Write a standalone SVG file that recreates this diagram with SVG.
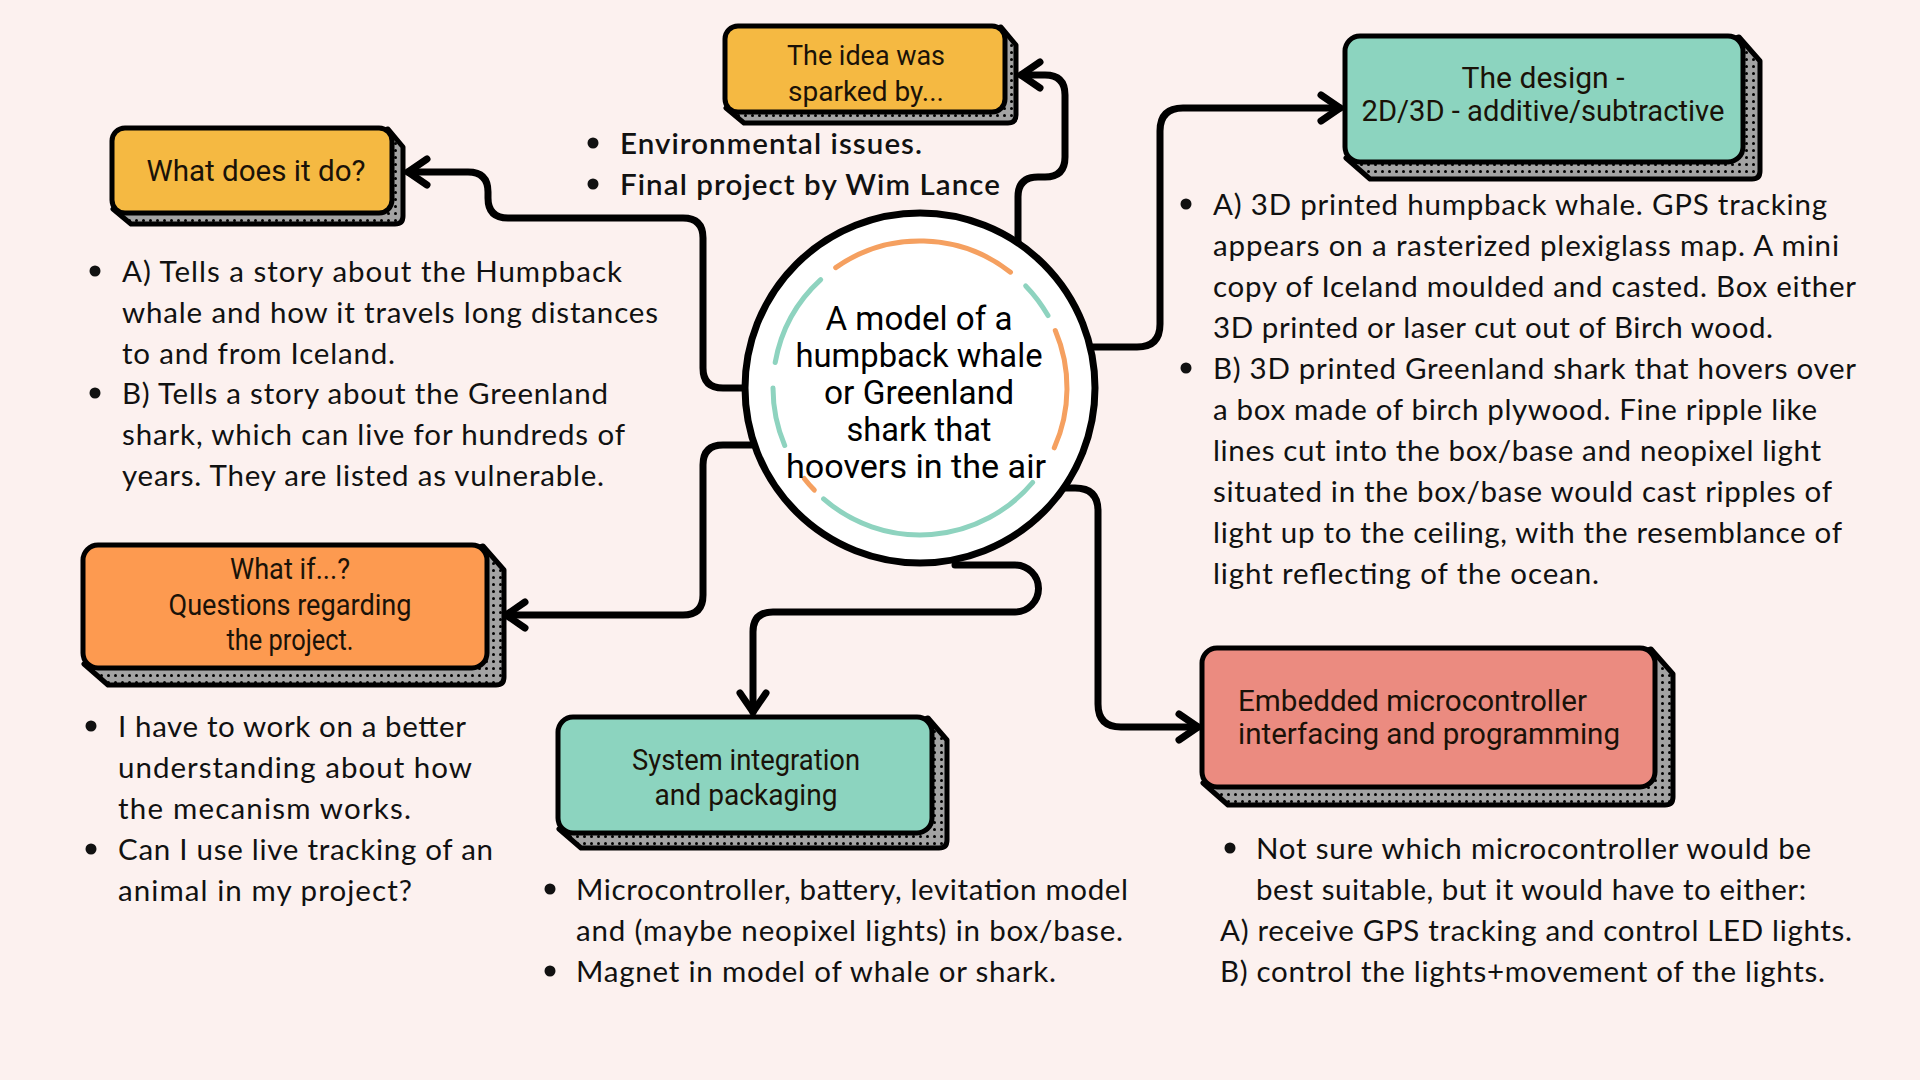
<svg xmlns="http://www.w3.org/2000/svg" width="1920" height="1080" viewBox="0 0 1920 1080">
<defs>
<pattern id="dots" patternUnits="userSpaceOnUse" width="7" height="7">
<rect width="7" height="7" fill="#a3a3a3"/>
<circle cx="3.5" cy="3.5" r="1.5" fill="#000"/>
</pattern>
<marker id="arr" markerUnits="userSpaceOnUse" orient="auto" refX="0" refY="0" markerWidth="1" markerHeight="1" overflow="visible">
<path d="M -19 -13 L 0 0 L -19 13" fill="none" stroke="#000" stroke-width="7" stroke-linecap="round" stroke-linejoin="round"/>
</marker>
<style>
.shadow{fill:url(#dots);stroke:#000;stroke-width:5;stroke-linejoin:round}
.box{stroke:#000;stroke-width:5}
.yellow{fill:#f5b942}
.teal{fill:#8cd4bf}
.orange{fill:#fd9a50}
.salmon{fill:#eb8b80}
.bt{font-family:Roboto,"Liberation Sans",sans-serif;font-size:29px;fill:#1a1208;text-anchor:middle}
.body{font-family:Lato,"Open Sans",sans-serif;font-size:29.5px;fill:#111}
.bold{font-weight:600}
.dot{fill:#111}
.conn{fill:none;stroke:#000;stroke-width:7;stroke-linecap:round;stroke-linejoin:round}
.ring{fill:none;stroke-width:5;stroke-linecap:round}
.ro{stroke:#f5a060}
.rt{stroke:#8ed3bf}
</style>
</defs>
<rect width="1920" height="1080" fill="#fcf1ef"/>

<g id="connectors">
<path class="conn" marker-end="url(#arr)" d="M 1018 250 L 1018 197 Q 1018 177 1038 177 L 1045 177 Q 1065 177 1065 157 L 1065 95 Q 1065 75 1045 75 L 1021 75"/>
<path class="conn" marker-end="url(#arr)" d="M 760 388 L 723 388 Q 703 388 703 368 L 703 238 Q 703 218 683 218 L 508 218 Q 488 218 488 198 L 488 192 Q 488 172 468 172 L 408 172"/>
<path class="conn" marker-end="url(#arr)" d="M 760 445 L 723 445 Q 703 445 703 465 L 703 595 Q 703 615 683 615 L 506 615"/>
<path class="conn" marker-end="url(#arr)" d="M 955 565 L 1015 565 A 23.5 23.5 0 0 1 1015 612 L 773 612 Q 753 612 753 632 L 753 712"/>
<path class="conn" marker-end="url(#arr)" d="M 1060 488 L 1075 488 Q 1098 488 1098 511 L 1098 704 Q 1098 727 1121 727 L 1198 727"/>
<path class="conn" marker-end="url(#arr)" d="M 1090 347 L 1137 347 Q 1160 347 1160 324 L 1160 131 Q 1160 108 1183 108 L 1340 108"/>
</g>

<g id="center">
<circle cx="920" cy="388" r="175" fill="#fff" stroke="#000" stroke-width="7"/>
<path class="ring ro" d="M 835.7 267.6 A 147 147 0 0 1 1010.5 272.2"/>
<path class="ring rt" d="M 1025.7 285.9 A 147 147 0 0 1 1048.0 315.6"/>
<path class="ring ro" d="M 1055.3 330.6 A 147 147 0 0 1 1054.3 447.8"/>
<path class="ring rt" d="M 1032.6 482.5 A 147 147 0 0 1 823.6 498.9"/>
<path class="ring ro" d="M 814.3 490.1 A 147 147 0 0 1 804.2 478.5"/>
<path class="ring rt" d="M 784.7 445.4 A 147 147 0 0 1 773 388"/>
<path class="ring rt" d="M 775.2 362.5 A 147 147 0 0 1 820.7 279.6"/>
<text class="bt" style="font-size:33px;fill:#000" x="919" y="330" textLength="187" lengthAdjust="spacingAndGlyphs">A model of a</text>
<text class="bt" style="font-size:33px;fill:#000" x="919" y="367" textLength="247" lengthAdjust="spacingAndGlyphs">humpback whale</text>
<text class="bt" style="font-size:33px;fill:#000" x="919" y="404" textLength="190" lengthAdjust="spacingAndGlyphs">or Greenland</text>
<text class="bt" style="font-size:33px;fill:#000" x="919" y="441" textLength="145" lengthAdjust="spacingAndGlyphs">shark that</text>
<text class="bt" style="font-size:33px;fill:#000" x="916" y="478" textLength="260" lengthAdjust="spacingAndGlyphs">hoovers in the air</text>
</g>

<g id="idea">
<path class="shadow" d="M 1001 27 L 1016 45 L 1016 115 Q 1016 123 1008 123 L 744 123 L 726 108 Z"/>
<rect class="box yellow" x="725" y="26" width="280" height="86" rx="13"/>
<text class="bt" style="font-size:28px" x="866" y="65" textLength="158" lengthAdjust="spacingAndGlyphs">The idea was</text>
<text class="bt" style="font-size:28px" x="866" y="101" textLength="156" lengthAdjust="spacingAndGlyphs">sparked by...</text>
<circle class="dot" cx="593" cy="143" r="5.5"/>
<circle class="dot" cx="593" cy="184" r="5.5"/>
<text class="body bold" x="620" y="154" textLength="302">Environmental issues.</text>
<text class="body bold" x="620" y="195" textLength="380">Final project by Wim Lance</text>
</g>

<g id="whatdo">
<path class="shadow" d="M 388 129 L 403 147 L 403 216 Q 403 224 395 224 L 131 224 L 113 209 Z"/>
<rect class="box yellow" x="112" y="128" width="280" height="85" rx="13"/>
<text class="bt" style="font-size:30px" x="256" y="181" textLength="219" lengthAdjust="spacingAndGlyphs">What does it do?</text>
<circle class="dot" cx="95" cy="271" r="5.5"/>
<circle class="dot" cx="95" cy="393" r="5.5"/>
<text class="body" x="122" y="282" textLength="500">A) Tells  a story about the Humpback</text>
<text class="body" x="122" y="323" textLength="536">whale and how it travels long distances</text>
<text class="body" x="122" y="364" textLength="273">to and from Iceland.</text>
<text class="body" x="122" y="404" textLength="486">B) Tells a story about the Greenland</text>
<text class="body" x="122" y="445" textLength="503">shark, which can live for hundreds of</text>
<text class="body" x="122" y="486" textLength="482">years. They are listed as vulnerable.</text>
</g>

<g id="design">
<path class="shadow" d="M 1739 37 L 1760 61 L 1760 171 Q 1760 179 1752 179 L 1370 179 L 1346 158 Z"/>
<rect class="box teal" x="1345" y="36" width="398" height="126" rx="15"/>
<text class="bt" x="1543" y="88" textLength="163" lengthAdjust="spacingAndGlyphs">The design -</text>
<text class="bt" x="1543" y="121" textLength="363" lengthAdjust="spacingAndGlyphs">2D/3D - additive/subtractive</text>
<circle class="dot" cx="1186" cy="204" r="5.5"/>
<circle class="dot" cx="1186" cy="368" r="5.5"/>
<text class="body" x="1213" y="215" textLength="614">A) 3D printed humpback whale. GPS tracking</text>
<text class="body" x="1213" y="256" textLength="626">appears on a rasterized plexiglass map. A mini</text>
<text class="body" x="1213" y="297" textLength="643">copy of Iceland moulded and casted. Box either</text>
<text class="body" x="1213" y="338" textLength="560">3D printed or laser cut out of Birch wood.</text>
<text class="body" x="1213" y="379" textLength="643">B) 3D printed Greenland shark that hovers over</text>
<text class="body" x="1213" y="420" textLength="604">a box made of birch plywood. Fine ripple like</text>
<text class="body" x="1213" y="461" textLength="608">lines cut into the box/base and neopixel light</text>
<text class="body" x="1213" y="502" textLength="619">situated in the box/base would cast ripples of</text>
<text class="body" x="1213" y="543" textLength="629">light up to the ceiling, with the resemblance of</text>
<text class="body" x="1213" y="584" textLength="386">light reflecting of the ocean.</text>
</g>

<g id="whatif">
<path class="shadow" d="M 483 546 L 504 570 L 504 677 Q 504 685 496 685 L 108 685 L 84 664 Z"/>
<rect class="box orange" x="83" y="545" width="404" height="123" rx="15"/>
<text class="bt" x="290" y="579" textLength="120" lengthAdjust="spacingAndGlyphs">What if...?</text>
<text class="bt" x="290" y="615" textLength="243" lengthAdjust="spacingAndGlyphs">Questions regarding</text>
<text class="bt" x="290" y="650" textLength="127" lengthAdjust="spacingAndGlyphs">the project.</text>
<circle class="dot" cx="91" cy="726" r="5.5"/>
<circle class="dot" cx="91" cy="849" r="5.5"/>
<text class="body" x="118" y="737" textLength="348">I have to work on a better</text>
<text class="body" x="118" y="778" textLength="354">understanding about how</text>
<text class="body" x="118" y="819" textLength="293">the mecanism works.</text>
<text class="body" x="118" y="860" textLength="375">Can I use live tracking of an</text>
<text class="body" x="118" y="901" textLength="294">animal in my project?</text>
</g>

<g id="system">
<path class="shadow" d="M 928 718 L 947 740 L 947 840 Q 947 848 939 848 L 581 848 L 559 829 Z"/>
<rect class="box teal" x="558" y="717" width="374" height="116" rx="15"/>
<text class="bt" x="746" y="770" textLength="228" lengthAdjust="spacingAndGlyphs">System integration</text>
<text class="bt" x="746" y="805" textLength="183" lengthAdjust="spacingAndGlyphs">and packaging</text>
<circle class="dot" cx="550" cy="889" r="5.5"/>
<circle class="dot" cx="550" cy="971" r="5.5"/>
<text class="body" x="576" y="900" textLength="552">Microcontroller, battery, levitation model</text>
<text class="body" x="576" y="941" textLength="547">and (maybe neopixel lights) in box/base.</text>
<text class="body" x="576" y="982" textLength="480">Magnet in model of whale or shark.</text>
</g>

<g id="embedded">
<path class="shadow" d="M 1651 649 L 1673 674 L 1673 797 Q 1673 805 1665 805 L 1228 805 L 1203 783 Z"/>
<rect class="box salmon" x="1202" y="648" width="453" height="139" rx="15"/>
<text class="bt" style="text-anchor:start" x="1238" y="711" textLength="349" lengthAdjust="spacingAndGlyphs">Embedded microcontroller</text>
<text class="bt" style="text-anchor:start" x="1238" y="744" textLength="382" lengthAdjust="spacingAndGlyphs">interfacing and programming</text>
<circle class="dot" cx="1230" cy="848" r="5.5"/>
<text class="body" x="1256" y="859" textLength="555">Not sure which microcontroller would be</text>
<text class="body" x="1256" y="900" textLength="550">best suitable, but it would have to either:</text>
<text class="body" x="1220" y="941" textLength="632">A) receive GPS tracking and control LED lights.</text>
<text class="body" x="1220" y="982" textLength="605">B) control the lights+movement of the lights.</text>
</g>
</svg>
